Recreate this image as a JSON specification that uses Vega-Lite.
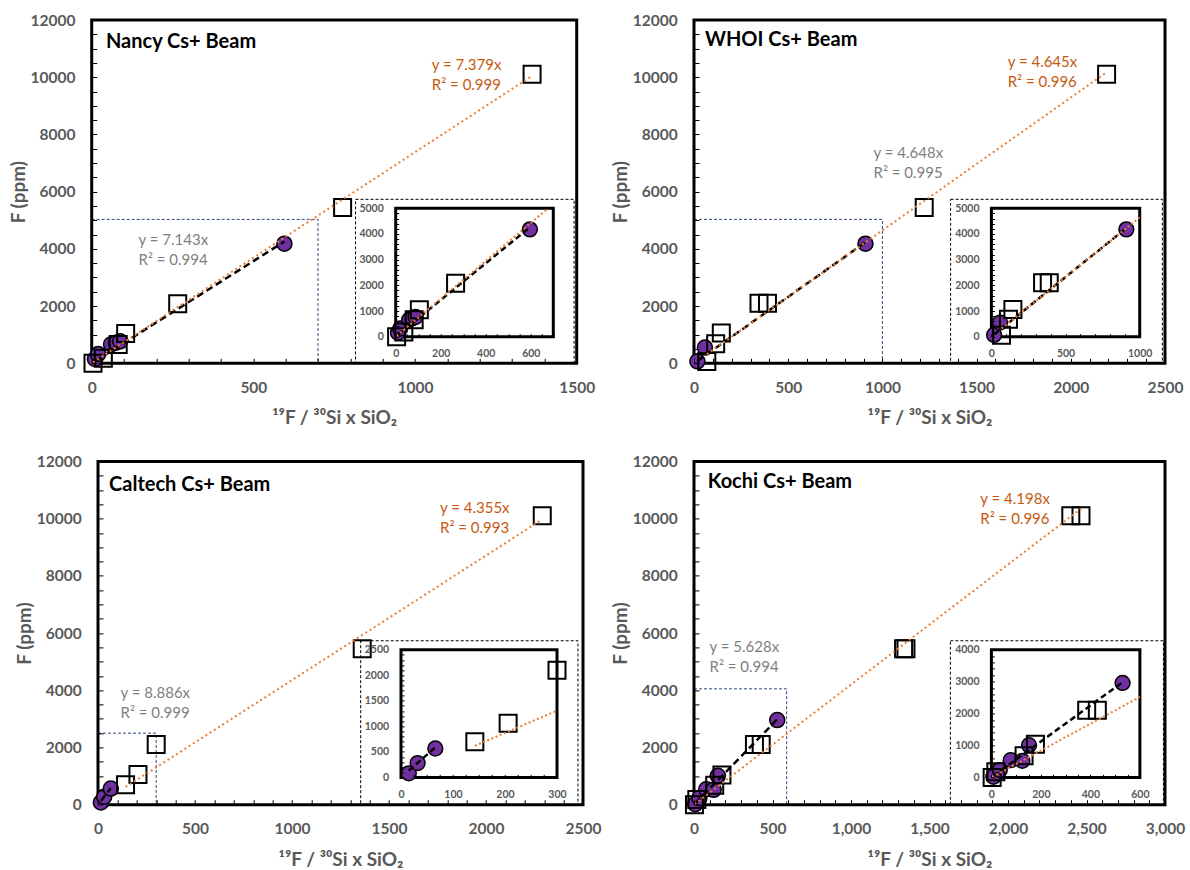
{
  "$schema": "https://vega.github.io/schema/vega-lite/v6.json",
  "autosize": "none",
  "padding": {"left": 91.7, "top": 20, "right": 1098.3, "bottom": 850},
  "background": "white",
  "config": {
    "view": {"stroke": null},
    "axis": {"domain": false, "grid": false, "labelColor": "#595959", "labelFont": "Lato", "labelFontWeight": "bold", "labelFlush": false, "labelOverlap": false, "labelBound": false, "tickColor": "black", "tickWidth": 1, "titleColor": "#595959", "titleFont": "Lato", "titleFontWeight": "bold", "zindex": 2}
  },
  "datasets": {
    "points": [
      {"panel": "Nancy", "type": "circle", "x": 10, "y": 150},
      {"panel": "Nancy", "type": "circle", "x": 20, "y": 320},
      {"panel": "Nancy", "type": "circle", "x": 60, "y": 660},
      {"panel": "Nancy", "type": "circle", "x": 75, "y": 720},
      {"panel": "Nancy", "type": "circle", "x": 88, "y": 770},
      {"panel": "Nancy", "type": "circle", "x": 596, "y": 4180},
      {"panel": "Nancy", "type": "square", "x": 4, "y": 0},
      {"panel": "Nancy", "type": "square", "x": 36, "y": 180},
      {"panel": "Nancy", "type": "square", "x": 82, "y": 660},
      {"panel": "Nancy", "type": "square", "x": 105, "y": 1045},
      {"panel": "Nancy", "type": "square", "x": 266, "y": 2080},
      {"panel": "Nancy", "type": "square", "x": 776, "y": 5450},
      {"panel": "Nancy", "type": "square", "x": 1362, "y": 10100},
      {"panel": "WHOI", "type": "circle", "x": 18, "y": 70},
      {"panel": "WHOI", "type": "circle", "x": 58, "y": 550},
      {"panel": "WHOI", "type": "circle", "x": 910, "y": 4180},
      {"panel": "WHOI", "type": "square", "x": 68, "y": 60},
      {"panel": "WHOI", "type": "square", "x": 115, "y": 680},
      {"panel": "WHOI", "type": "square", "x": 145, "y": 1060},
      {"panel": "WHOI", "type": "square", "x": 345, "y": 2100},
      {"panel": "WHOI", "type": "square", "x": 390, "y": 2100},
      {"panel": "WHOI", "type": "square", "x": 1222, "y": 5450},
      {"panel": "WHOI", "type": "square", "x": 2190, "y": 10100},
      {"panel": "Caltech", "type": "circle", "x": 15, "y": 80},
      {"panel": "Caltech", "type": "circle", "x": 32, "y": 280},
      {"panel": "Caltech", "type": "circle", "x": 66, "y": 565},
      {"panel": "Caltech", "type": "square", "x": 142, "y": 700},
      {"panel": "Caltech", "type": "square", "x": 206, "y": 1060},
      {"panel": "Caltech", "type": "square", "x": 300, "y": 2100},
      {"panel": "Caltech", "type": "square", "x": 1362, "y": 5450},
      {"panel": "Caltech", "type": "square", "x": 2290, "y": 10100},
      {"panel": "Kochi", "type": "circle", "x": 8, "y": 20},
      {"panel": "Kochi", "type": "circle", "x": 34, "y": 230},
      {"panel": "Kochi", "type": "circle", "x": 78, "y": 540},
      {"panel": "Kochi", "type": "circle", "x": 125, "y": 520},
      {"panel": "Kochi", "type": "circle", "x": 152, "y": 1010},
      {"panel": "Kochi", "type": "circle", "x": 530, "y": 2960},
      {"panel": "Kochi", "type": "square", "x": 3, "y": 0},
      {"panel": "Kochi", "type": "square", "x": 18, "y": 180},
      {"panel": "Kochi", "type": "square", "x": 132, "y": 680},
      {"panel": "Kochi", "type": "square", "x": 178, "y": 1040},
      {"panel": "Kochi", "type": "square", "x": 385, "y": 2100},
      {"panel": "Kochi", "type": "square", "x": 428, "y": 2100},
      {"panel": "Kochi", "type": "square", "x": 1335, "y": 5450},
      {"panel": "Kochi", "type": "square", "x": 1350, "y": 5450},
      {"panel": "Kochi", "type": "square", "x": 2400, "y": 10100},
      {"panel": "Kochi", "type": "square", "x": 2465, "y": 10100}
    ],
    "trend": [
      {"panel": "Nancy", "fit": "circle", "view": "both", "x": 10, "y": 71.43},
      {"panel": "Nancy", "fit": "circle", "view": "both", "x": 596, "y": 4257.2},
      {"panel": "Nancy", "fit": "all", "view": "main", "x": 4, "y": 29.52},
      {"panel": "Nancy", "fit": "all", "view": "main", "x": 1362, "y": 10050.2},
      {"panel": "Nancy", "fit": "all", "view": "inset", "x": 4, "y": 29.52},
      {"panel": "Nancy", "fit": "all", "view": "inset", "x": 677, "y": 4995.6},
      {"panel": "WHOI", "fit": "circle", "view": "both", "x": 18, "y": 83.66},
      {"panel": "WHOI", "fit": "circle", "view": "both", "x": 910, "y": 4229.7},
      {"panel": "WHOI", "fit": "all", "view": "main", "x": 68, "y": 315.9},
      {"panel": "WHOI", "fit": "all", "view": "main", "x": 2190, "y": 10172.6},
      {"panel": "WHOI", "fit": "all", "view": "inset", "x": 68, "y": 315.9},
      {"panel": "WHOI", "fit": "all", "view": "inset", "x": 1000, "y": 4645},
      {"panel": "Caltech", "fit": "circle", "view": "both", "x": 15, "y": 133.3},
      {"panel": "Caltech", "fit": "circle", "view": "both", "x": 66, "y": 586.5},
      {"panel": "Caltech", "fit": "all", "view": "main", "x": 142, "y": 618.4},
      {"panel": "Caltech", "fit": "all", "view": "main", "x": 2290, "y": 9973},
      {"panel": "Caltech", "fit": "all", "view": "inset", "x": 142, "y": 618.4},
      {"panel": "Caltech", "fit": "all", "view": "inset", "x": 300, "y": 1306.5},
      {"panel": "Kochi", "fit": "circle", "view": "both", "x": 8, "y": 45},
      {"panel": "Kochi", "fit": "circle", "view": "both", "x": 530, "y": 2982.8},
      {"panel": "Kochi", "fit": "all", "view": "main", "x": 3, "y": 12.6},
      {"panel": "Kochi", "fit": "all", "view": "main", "x": 2465, "y": 10348.1},
      {"panel": "Kochi", "fit": "all", "view": "inset", "x": 3, "y": 12.6},
      {"panel": "Kochi", "fit": "all", "view": "inset", "x": 600, "y": 2518.8}
    ]
  },
  "bounds": "flush",
  "columns": 2,
  "spacing": {"row": 97.4, "column": 110.3},
  "concat": [
    {
      "width": 485, "height": 343.3,
      "resolve": {"scale": {"x": "independent", "y": "independent"}},
      "layer": [
        {"data": {"values": [{}]},
         "mark": {"type": "rect", "filled": false, "stroke": "#2F4B7C", "strokeWidth": 1, "strokeDash": [3, 2]},
         "encoding": {"x": {"datum": 0, "type": "quantitative", "scale": {"domain": [0, 1500], "nice": false}, "axis": null}, "x2": {"datum": 700},
                      "y": {"datum": 0, "type": "quantitative", "scale": {"domain": [0, 12000], "nice": false}, "axis": null}, "y2": {"datum": 5030}}},
        {"data": {"values": [{}]},
         "mark": {"type": "rect", "fill": "white", "stroke": "black", "strokeWidth": 1, "strokeDash": [3, 2]},
         "encoding": {"x": {"datum": 816, "type": "quantitative", "scale": {"domain": [0, 1500], "nice": false}, "axis": null}, "x2": {"datum": 1492},
                      "y": {"datum": 0, "type": "quantitative", "scale": {"domain": [0, 12000], "nice": false}, "axis": null}, "y2": {"datum": 5732}}},
        {"data": {"values": [{}]},
         "mark": {"type": "rect", "filled": false, "stroke": "black", "strokeWidth": 3},
         "encoding": {"x": {"datum": 0, "type": "quantitative", "scale": {"domain": [0, 1500], "nice": false}, "axis": null}, "x2": {"datum": 1500},
                      "y": {"datum": 0, "type": "quantitative", "scale": {"domain": [0, 12000], "nice": false}, "axis": null}, "y2": {"datum": 12000}}},
        {"data": {"name": "points"}, "transform": [{"filter": "datum.panel === 'Nancy' && datum.type === 'circle'"}],
         "mark": {"type": "point", "shape": "circle", "filled": true, "fill": "#7030A0", "stroke": "black", "strokeWidth": 1.5, "size": 227, "opacity": 1},
         "encoding": {
           "x": {"field": "x", "type": "quantitative", "scale": {"domain": [0, 1500], "nice": false},
             "axis": {"title": "¹⁹F / ³⁰Si x SiO₂", "zindex": 2, "values": [0,100,200,300,400,500,600,700,800,900,1000,1100,1200,1300,1400,1500], "labelExpr": "datum.value % 500 === 0 ? datum.label : ''", "format": "d", "tickSize": -5, "labelFontSize": 15.5, "labelPadding": 22, "labelOverlap": false, "titleFontSize": 19, "titlePadding": 13}},
           "y": {"field": "y", "type": "quantitative", "scale": {"domain": [0, 12000], "nice": false},
             "axis": {"title": "F (ppm)", "zindex": 2, "values": [0,500,1000,1500,2000,2500,3000,3500,4000,4500,5000,5500,6000,6500,7000,7500,8000,8500,9000,9500,10000,10500,11000,11500,12000], "labelExpr": "datum.value % 2000 === 0 ? datum.label : ''", "format": "d", "tickSize": -5, "labelFontSize": 15.5, "labelPadding": 21.7, "labelOverlap": false, "titleFontSize": 19, "titlePadding": 2}}}},
        {"data": {"name": "points"}, "transform": [{"filter": "datum.panel === 'Nancy' && datum.type === 'square'"}],
         "mark": {"type": "point", "shape": "square", "filled": false, "stroke": "black", "strokeWidth": 2, "size": 289, "opacity": 1},
         "encoding": {"x": {"field": "x", "type": "quantitative", "scale": {"domain": [0, 1500], "nice": false}, "axis": null},
                      "y": {"field": "y", "type": "quantitative", "scale": {"domain": [0, 12000], "nice": false}, "axis": null}}},
        {"data": {"name": "trend"}, "transform": [{"filter": "datum.panel === 'Nancy' && datum.fit === 'circle'"}],
         "mark": {"type": "line", "color": "black", "strokeWidth": 2.5, "strokeDash": [7, 4]},
         "encoding": {"x": {"field": "x", "type": "quantitative", "scale": {"domain": [0, 1500], "nice": false}, "axis": null},
                      "y": {"field": "y", "type": "quantitative", "scale": {"domain": [0, 12000], "nice": false}, "axis": null}}},
        {"data": {"name": "trend"}, "transform": [{"filter": "datum.panel === 'Nancy' && datum.fit === 'all' && datum.view === 'main'"}],
         "mark": {"type": "line", "color": "#ED7D31", "strokeWidth": 2, "strokeDash": [2, 3]},
         "encoding": {"x": {"field": "x", "type": "quantitative", "scale": {"domain": [0, 1500], "nice": false}, "axis": null},
                      "y": {"field": "y", "type": "quantitative", "scale": {"domain": [0, 12000], "nice": false}, "axis": null}}},
        {"data": {"values": [{}]},
         "mark": {"type": "text", "text": "Nancy Cs+ Beam", "font": "Lato", "fontSize": 20, "fontWeight": "bold", "color": "black", "align": "left", "baseline": "middle"},
         "encoding": {"x": {"datum": 44, "type": "quantitative", "scale": {"domain": [0, 1500], "nice": false}, "axis": null},
                      "y": {"datum": 11241, "type": "quantitative", "scale": {"domain": [0, 12000], "nice": false}, "axis": null}}},
        {"data": {"values": [{}]},
         "mark": {"type": "text", "text": ["y = 7.379x", "R² = 0.999"], "font": "Lato", "fontSize": 15, "lineHeight": 20, "color": "#C65911", "align": "left", "baseline": "middle"},
         "encoding": {"x": {"datum": 1052, "type": "quantitative", "scale": {"domain": [0, 1500], "nice": false}, "axis": null},
                      "y": {"datum": 10426, "type": "quantitative", "scale": {"domain": [0, 12000], "nice": false}, "axis": null}}},
        {"data": {"values": [{}]},
         "mark": {"type": "text", "text": ["y = 7.143x", "R² = 0.994"], "font": "Lato", "fontSize": 15, "lineHeight": 20, "color": "#7F7F7F", "align": "left", "baseline": "middle"},
         "encoding": {"x": {"datum": 145, "type": "quantitative", "scale": {"domain": [0, 1500], "nice": false}, "axis": null},
                      "y": {"datum": 4310, "type": "quantitative", "scale": {"domain": [0, 12000], "nice": false}, "axis": null}}},
        {"data": {"values": [{}]},
         "mark": {"type": "rect", "fill": "white", "stroke": "black", "strokeWidth": 3},
         "encoding": {"x": {"datum": 0, "type": "quantitative", "scale": {"domain": [0, 700], "range": [304, 461.6], "nice": false}, "axis": null}, "x2": {"datum": 700},
                      "y": {"datum": 0, "type": "quantitative", "scale": {"domain": [0, 5000], "range": [316.7, 188.3], "nice": false}, "axis": null}, "y2": {"datum": 5000}}},
        {"data": {"name": "points"}, "transform": [{"filter": "datum.panel === 'Nancy' && datum.type === 'circle' && datum.x <= 700 && datum.y <= 5000"}],
         "mark": {"type": "point", "shape": "circle", "filled": true, "fill": "#7030A0", "stroke": "black", "strokeWidth": 1.5, "size": 220, "opacity": 1},
         "encoding": {
           "x": {"field": "x", "type": "quantitative", "scale": {"domain": [0, 700], "range": [304, 461.6], "nice": false},
             "axis": {"orient": "bottom", "offset": -26.6, "zindex": 2, "title": null, "values": [0,50,100,150,200,250,300,350,400,450,500,550,600,650,700], "labelExpr": "datum.value % 200 === 0 ? datum.label : ''", "format": "d", "tickSize": -3, "labelFontSize": 10.5, "labelPadding": 15, "labelOverlap": false}},
           "y": {"field": "y", "type": "quantitative", "scale": {"domain": [0, 5000], "range": [316.7, 188.3], "nice": false},
             "axis": {"orient": "left", "offset": -304, "zindex": 2, "title": null, "values": [0,200,400,600,800,1000,1200,1400,1600,1800,2000,2200,2400,2600,2800,3000,3200,3400,3600,3800,4000,4200,4400,4600,4800,5000], "labelExpr": "datum.value % 1000 === 0 ? datum.label : ''", "format": "d", "tickSize": -3, "labelFontSize": 10.5, "labelPadding": 15.4, "labelOverlap": false}}}},
        {"data": {"name": "points"}, "transform": [{"filter": "datum.panel === 'Nancy' && datum.type === 'square' && datum.x <= 700 && datum.y <= 5000"}],
         "mark": {"type": "point", "shape": "square", "filled": false, "stroke": "black", "strokeWidth": 2, "size": 289, "opacity": 1},
         "encoding": {"x": {"field": "x", "type": "quantitative", "scale": {"domain": [0, 700], "range": [304, 461.6], "nice": false}, "axis": null},
                      "y": {"field": "y", "type": "quantitative", "scale": {"domain": [0, 5000], "range": [316.7, 188.3], "nice": false}, "axis": null}}},
        {"data": {"name": "trend"}, "transform": [{"filter": "datum.panel === 'Nancy' && datum.fit === 'circle'"}],
         "mark": {"type": "line", "color": "black", "strokeWidth": 2.5, "strokeDash": [6, 3.5]},
         "encoding": {"x": {"field": "x", "type": "quantitative", "scale": {"domain": [0, 700], "range": [304, 461.6], "nice": false}, "axis": null},
                      "y": {"field": "y", "type": "quantitative", "scale": {"domain": [0, 5000], "range": [316.7, 188.3], "nice": false}, "axis": null}}},
        {"data": {"name": "trend"}, "transform": [{"filter": "datum.panel === 'Nancy' && datum.fit === 'all' && datum.view === 'inset'"}],
         "mark": {"type": "line", "color": "#ED7D31", "strokeWidth": 2, "strokeDash": [2, 2.5]},
         "encoding": {"x": {"field": "x", "type": "quantitative", "scale": {"domain": [0, 700], "range": [304, 461.6], "nice": false}, "axis": null},
                      "y": {"field": "y", "type": "quantitative", "scale": {"domain": [0, 5000], "range": [316.7, 188.3], "nice": false}, "axis": null}}}
      ]
    },
    {
      "width": 471, "height": 343.3,
      "resolve": {"scale": {"x": "independent", "y": "independent"}},
      "layer": [
        {"data": {"values": [{}]},
         "mark": {"type": "rect", "filled": false, "stroke": "#2F4B7C", "strokeWidth": 1, "strokeDash": [3, 2]},
         "encoding": {"x": {"datum": 0, "type": "quantitative", "scale": {"domain": [0, 2500], "nice": false}, "axis": null}, "x2": {"datum": 1000},
                      "y": {"datum": 0, "type": "quantitative", "scale": {"domain": [0, 12000], "nice": false}, "axis": null}, "y2": {"datum": 5030}}},
        {"data": {"values": [{}]},
         "mark": {"type": "rect", "fill": "white", "stroke": "black", "strokeWidth": 1, "strokeDash": [3, 2]},
         "encoding": {"x": {"datum": 1362, "type": "quantitative", "scale": {"domain": [0, 2500], "nice": false}, "axis": null}, "x2": {"datum": 2486},
                      "y": {"datum": 0, "type": "quantitative", "scale": {"domain": [0, 12000], "nice": false}, "axis": null}, "y2": {"datum": 5732}}},
        {"data": {"values": [{}]},
         "mark": {"type": "rect", "filled": false, "stroke": "black", "strokeWidth": 3},
         "encoding": {"x": {"datum": 0, "type": "quantitative", "scale": {"domain": [0, 2500], "nice": false}, "axis": null}, "x2": {"datum": 2500},
                      "y": {"datum": 0, "type": "quantitative", "scale": {"domain": [0, 12000], "nice": false}, "axis": null}, "y2": {"datum": 12000}}},
        {"data": {"name": "points"}, "transform": [{"filter": "datum.panel === 'WHOI' && datum.type === 'circle'"}],
         "mark": {"type": "point", "shape": "circle", "filled": true, "fill": "#7030A0", "stroke": "black", "strokeWidth": 1.5, "size": 227, "opacity": 1},
         "encoding": {
           "x": {"field": "x", "type": "quantitative", "scale": {"domain": [0, 2500], "nice": false},
             "axis": {"title": "¹⁹F / ³⁰Si x SiO₂", "zindex": 2, "values": [0,100,200,300,400,500,600,700,800,900,1000,1100,1200,1300,1400,1500,1600,1700,1800,1900,2000,2100,2200,2300,2400,2500], "labelExpr": "datum.value % 500 === 0 ? datum.label : ''", "format": "d", "tickSize": -5, "labelFontSize": 15.5, "labelPadding": 22, "labelOverlap": false, "titleFontSize": 19, "titlePadding": 13}},
           "y": {"field": "y", "type": "quantitative", "scale": {"domain": [0, 12000], "nice": false},
             "axis": {"title": "F (ppm)", "zindex": 2, "values": [0,500,1000,1500,2000,2500,3000,3500,4000,4500,5000,5500,6000,6500,7000,7500,8000,8500,9000,9500,10000,10500,11000,11500,12000], "labelExpr": "datum.value % 2000 === 0 ? datum.label : ''", "format": "d", "tickSize": -5, "labelFontSize": 15.5, "labelPadding": 21.7, "labelOverlap": false, "titleFontSize": 19, "titlePadding": 2}}}},
        {"data": {"name": "points"}, "transform": [{"filter": "datum.panel === 'WHOI' && datum.type === 'square'"}],
         "mark": {"type": "point", "shape": "square", "filled": false, "stroke": "black", "strokeWidth": 2, "size": 289, "opacity": 1},
         "encoding": {"x": {"field": "x", "type": "quantitative", "scale": {"domain": [0, 2500], "nice": false}, "axis": null},
                      "y": {"field": "y", "type": "quantitative", "scale": {"domain": [0, 12000], "nice": false}, "axis": null}}},
        {"data": {"name": "trend"}, "transform": [{"filter": "datum.panel === 'WHOI' && datum.fit === 'circle'"}],
         "mark": {"type": "line", "color": "black", "strokeWidth": 2.5, "strokeDash": [7, 4]},
         "encoding": {"x": {"field": "x", "type": "quantitative", "scale": {"domain": [0, 2500], "nice": false}, "axis": null},
                      "y": {"field": "y", "type": "quantitative", "scale": {"domain": [0, 12000], "nice": false}, "axis": null}}},
        {"data": {"name": "trend"}, "transform": [{"filter": "datum.panel === 'WHOI' && datum.fit === 'all' && datum.view === 'main'"}],
         "mark": {"type": "line", "color": "#ED7D31", "strokeWidth": 2, "strokeDash": [2, 3]},
         "encoding": {"x": {"field": "x", "type": "quantitative", "scale": {"domain": [0, 2500], "nice": false}, "axis": null},
                      "y": {"field": "y", "type": "quantitative", "scale": {"domain": [0, 12000], "nice": false}, "axis": null}}},
        {"data": {"values": [{}]},
         "mark": {"type": "text", "text": "WHOI Cs+ Beam", "font": "Lato", "fontSize": 20, "fontWeight": "bold", "color": "black", "align": "left", "baseline": "middle"},
         "encoding": {"x": {"datum": 58, "type": "quantitative", "scale": {"domain": [0, 2500], "nice": false}, "axis": null},
                      "y": {"datum": 11300, "type": "quantitative", "scale": {"domain": [0, 12000], "nice": false}, "axis": null}}},
        {"data": {"values": [{}]},
         "mark": {"type": "text", "text": ["y = 4.645x", "R² = 0.996"], "font": "Lato", "fontSize": 15, "lineHeight": 20, "color": "#C65911", "align": "left", "baseline": "middle"},
         "encoding": {"x": {"datum": 1665, "type": "quantitative", "scale": {"domain": [0, 2500], "nice": false}, "axis": null},
                      "y": {"datum": 10542, "type": "quantitative", "scale": {"domain": [0, 12000], "nice": false}, "axis": null}}},
        {"data": {"values": [{}]},
         "mark": {"type": "text", "text": ["y = 4.648x", "R² = 0.995"], "font": "Lato", "fontSize": 15, "lineHeight": 20, "color": "#7F7F7F", "align": "left", "baseline": "middle"},
         "encoding": {"x": {"datum": 953, "type": "quantitative", "scale": {"domain": [0, 2500], "nice": false}, "axis": null},
                      "y": {"datum": 7340, "type": "quantitative", "scale": {"domain": [0, 12000], "nice": false}, "axis": null}}},
        {"data": {"values": [{}]},
         "mark": {"type": "rect", "fill": "white", "stroke": "black", "strokeWidth": 3},
         "encoding": {"x": {"datum": 0, "type": "quantitative", "scale": {"domain": [0, 1000], "range": [297.4, 445.7], "nice": false}, "axis": null}, "x2": {"datum": 1000},
                      "y": {"datum": 0, "type": "quantitative", "scale": {"domain": [0, 5000], "range": [316.7, 188.3], "nice": false}, "axis": null}, "y2": {"datum": 5000}}},
        {"data": {"name": "points"}, "transform": [{"filter": "datum.panel === 'WHOI' && datum.type === 'circle' && datum.x <= 1000 && datum.y <= 5000"}],
         "mark": {"type": "point", "shape": "circle", "filled": true, "fill": "#7030A0", "stroke": "black", "strokeWidth": 1.5, "size": 220, "opacity": 1},
         "encoding": {
           "x": {"field": "x", "type": "quantitative", "scale": {"domain": [0, 1000], "range": [297.4, 445.7], "nice": false},
             "axis": {"orient": "bottom", "offset": -26.6, "zindex": 2, "title": null, "values": [0,100,200,300,400,500,600,700,800,900,1000], "labelExpr": "datum.value % 500 === 0 ? datum.label : ''", "format": "d", "tickSize": -3, "labelFontSize": 10.5, "labelPadding": 15, "labelOverlap": false}},
           "y": {"field": "y", "type": "quantitative", "scale": {"domain": [0, 5000], "range": [316.7, 188.3], "nice": false},
             "axis": {"orient": "left", "offset": -297.4, "zindex": 2, "title": null, "values": [0,200,400,600,800,1000,1200,1400,1600,1800,2000,2200,2400,2600,2800,3000,3200,3400,3600,3800,4000,4200,4400,4600,4800,5000], "labelExpr": "datum.value % 1000 === 0 ? datum.label : ''", "format": "d", "tickSize": -3, "labelFontSize": 10.5, "labelPadding": 15.4, "labelOverlap": false}}}},
        {"data": {"name": "points"}, "transform": [{"filter": "datum.panel === 'WHOI' && datum.type === 'square' && datum.x <= 1000 && datum.y <= 5000"}],
         "mark": {"type": "point", "shape": "square", "filled": false, "stroke": "black", "strokeWidth": 2, "size": 289, "opacity": 1},
         "encoding": {"x": {"field": "x", "type": "quantitative", "scale": {"domain": [0, 1000], "range": [297.4, 445.7], "nice": false}, "axis": null},
                      "y": {"field": "y", "type": "quantitative", "scale": {"domain": [0, 5000], "range": [316.7, 188.3], "nice": false}, "axis": null}}},
        {"data": {"name": "trend"}, "transform": [{"filter": "datum.panel === 'WHOI' && datum.fit === 'circle'"}],
         "mark": {"type": "line", "color": "black", "strokeWidth": 2.5, "strokeDash": [6, 3.5]},
         "encoding": {"x": {"field": "x", "type": "quantitative", "scale": {"domain": [0, 1000], "range": [297.4, 445.7], "nice": false}, "axis": null},
                      "y": {"field": "y", "type": "quantitative", "scale": {"domain": [0, 5000], "range": [316.7, 188.3], "nice": false}, "axis": null}}},
        {"data": {"name": "trend"}, "transform": [{"filter": "datum.panel === 'WHOI' && datum.fit === 'all' && datum.view === 'inset'"}],
         "mark": {"type": "line", "color": "#ED7D31", "strokeWidth": 2, "strokeDash": [2, 2.5]},
         "encoding": {"x": {"field": "x", "type": "quantitative", "scale": {"domain": [0, 1000], "range": [297.4, 445.7], "nice": false}, "axis": null},
                      "y": {"field": "y", "type": "quantitative", "scale": {"domain": [0, 5000], "range": [316.7, 188.3], "nice": false}, "axis": null}}}
      ]
    },
    {
      "width": 491.3, "height": 343.3,
      "resolve": {"scale": {"x": "independent", "y": "independent"}},
      "layer": [
        {"data": {"values": [{}]},
         "mark": {"type": "rect", "filled": false, "stroke": "#2F4B7C", "strokeWidth": 1, "strokeDash": [3, 2]},
         "encoding": {"x": {"datum": 0, "type": "quantitative", "scale": {"domain": [0, 2500], "range": [6.3, 491.3], "nice": false}, "axis": null}, "x2": {"datum": 300},
                      "y": {"datum": 0, "type": "quantitative", "scale": {"domain": [0, 12000], "nice": false}, "axis": null}, "y2": {"datum": 2500}}},
        {"data": {"values": [{}]},
         "mark": {"type": "rect", "fill": "white", "stroke": "black", "strokeWidth": 1, "strokeDash": [3, 2]},
         "encoding": {"x": {"datum": 1354, "type": "quantitative", "scale": {"domain": [0, 2500], "range": [6.3, 491.3], "nice": false}, "axis": null}, "x2": {"datum": 2474},
                      "y": {"datum": 0, "type": "quantitative", "scale": {"domain": [0, 12000], "nice": false}, "axis": null}, "y2": {"datum": 5730}}},
        {"data": {"values": [{}]},
         "mark": {"type": "rect", "filled": false, "stroke": "black", "strokeWidth": 3},
         "encoding": {"x": {"datum": 0, "type": "quantitative", "scale": {"domain": [0, 2500], "range": [6.3, 491.3], "nice": false}, "axis": null}, "x2": {"datum": 2500},
                      "y": {"datum": 0, "type": "quantitative", "scale": {"domain": [0, 12000], "nice": false}, "axis": null}, "y2": {"datum": 12000}}},
        {"data": {"name": "points"}, "transform": [{"filter": "datum.panel === 'Caltech' && datum.type === 'circle'"}],
         "mark": {"type": "point", "shape": "circle", "filled": true, "fill": "#7030A0", "stroke": "black", "strokeWidth": 1.5, "size": 227, "opacity": 1},
         "encoding": {
           "x": {"field": "x", "type": "quantitative", "scale": {"domain": [0, 2500], "range": [6.3, 491.3], "nice": false},
             "axis": {"title": "¹⁹F / ³⁰Si x SiO₂", "zindex": 2, "values": [0,100,200,300,400,500,600,700,800,900,1000,1100,1200,1300,1400,1500,1600,1700,1800,1900,2000,2100,2200,2300,2400,2500], "labelExpr": "datum.value % 500 === 0 ? datum.label : ''", "format": "d", "tickSize": -5, "labelFontSize": 15.5, "labelPadding": 22, "labelOverlap": false, "titleFontSize": 19, "titlePadding": 13}},
           "y": {"field": "y", "type": "quantitative", "scale": {"domain": [0, 12000], "nice": false},
             "axis": {"title": "F (ppm)", "zindex": 2, "offset": -6.3, "values": [0,500,1000,1500,2000,2500,3000,3500,4000,4500,5000,5500,6000,6500,7000,7500,8000,8500,9000,9500,10000,10500,11000,11500,12000], "labelExpr": "datum.value % 2000 === 0 ? datum.label : ''", "format": "d", "tickSize": -5, "labelFontSize": 15.5, "labelPadding": 21.7, "labelOverlap": false, "titleFontSize": 19, "titlePadding": 2}}}},
        {"data": {"name": "points"}, "transform": [{"filter": "datum.panel === 'Caltech' && datum.type === 'square'"}],
         "mark": {"type": "point", "shape": "square", "filled": false, "stroke": "black", "strokeWidth": 2, "size": 289, "opacity": 1},
         "encoding": {"x": {"field": "x", "type": "quantitative", "scale": {"domain": [0, 2500], "range": [6.3, 491.3], "nice": false}, "axis": null},
                      "y": {"field": "y", "type": "quantitative", "scale": {"domain": [0, 12000], "nice": false}, "axis": null}}},
        {"data": {"name": "trend"}, "transform": [{"filter": "datum.panel === 'Caltech' && datum.fit === 'circle'"}],
         "mark": {"type": "line", "color": "black", "strokeWidth": 2.5, "strokeDash": [7, 4]},
         "encoding": {"x": {"field": "x", "type": "quantitative", "scale": {"domain": [0, 2500], "range": [6.3, 491.3], "nice": false}, "axis": null},
                      "y": {"field": "y", "type": "quantitative", "scale": {"domain": [0, 12000], "nice": false}, "axis": null}}},
        {"data": {"name": "trend"}, "transform": [{"filter": "datum.panel === 'Caltech' && datum.fit === 'all' && datum.view === 'main'"}],
         "mark": {"type": "line", "color": "#ED7D31", "strokeWidth": 2, "strokeDash": [2, 3]},
         "encoding": {"x": {"field": "x", "type": "quantitative", "scale": {"domain": [0, 2500], "range": [6.3, 491.3], "nice": false}, "axis": null},
                      "y": {"field": "y", "type": "quantitative", "scale": {"domain": [0, 12000], "nice": false}, "axis": null}}},
        {"data": {"values": [{}]},
         "mark": {"type": "text", "text": "Caltech Cs+ Beam", "font": "Lato", "fontSize": 20, "fontWeight": "bold", "color": "black", "align": "left", "baseline": "middle"},
         "encoding": {"x": {"datum": 57, "type": "quantitative", "scale": {"domain": [0, 2500], "range": [6.3, 491.3], "nice": false}, "axis": null},
                      "y": {"datum": 11174, "type": "quantitative", "scale": {"domain": [0, 12000], "nice": false}, "axis": null}}},
        {"data": {"values": [{}]},
         "mark": {"type": "text", "text": ["y = 4.355x", "R² = 0.993"], "font": "Lato", "fontSize": 15, "lineHeight": 20, "color": "#C65911", "align": "left", "baseline": "middle"},
         "encoding": {"x": {"datum": 1763, "type": "quantitative", "scale": {"domain": [0, 2500], "range": [6.3, 491.3], "nice": false}, "axis": null},
                      "y": {"datum": 10356, "type": "quantitative", "scale": {"domain": [0, 12000], "nice": false}, "axis": null}}},
        {"data": {"values": [{}]},
         "mark": {"type": "text", "text": ["y = 8.886x", "R² = 0.999"], "font": "Lato", "fontSize": 15, "lineHeight": 20, "color": "#7F7F7F", "align": "left", "baseline": "middle"},
         "encoding": {"x": {"datum": 116, "type": "quantitative", "scale": {"domain": [0, 2500], "range": [6.3, 491.3], "nice": false}, "axis": null},
                      "y": {"datum": 3904, "type": "quantitative", "scale": {"domain": [0, 12000], "nice": false}, "axis": null}}},
        {"data": {"values": [{}]},
         "mark": {"type": "rect", "fill": "white", "stroke": "black", "strokeWidth": 3},
         "encoding": {"x": {"datum": 0, "type": "quantitative", "scale": {"domain": [0, 300], "range": [309.3, 465.3], "nice": false}, "axis": null}, "x2": {"datum": 300},
                      "y": {"datum": 0, "type": "quantitative", "scale": {"domain": [0, 2500], "range": [316, 188.3], "nice": false}, "axis": null}, "y2": {"datum": 2500}}},
        {"data": {"name": "points"}, "transform": [{"filter": "datum.panel === 'Caltech' && datum.type === 'circle' && datum.x <= 300 && datum.y <= 2500"}],
         "mark": {"type": "point", "shape": "circle", "filled": true, "fill": "#7030A0", "stroke": "black", "strokeWidth": 1.5, "size": 220, "opacity": 1},
         "encoding": {
           "x": {"field": "x", "type": "quantitative", "scale": {"domain": [0, 300], "range": [309.3, 465.3], "nice": false},
             "axis": {"orient": "bottom", "offset": -27.3, "zindex": 2, "title": null, "values": [0,25,50,75,100,125,150,175,200,225,250,275,300], "labelExpr": "datum.value % 100 === 0 ? datum.label : ''", "format": "d", "tickSize": -3, "labelFontSize": 10.5, "labelPadding": 15, "labelOverlap": false}},
           "y": {"field": "y", "type": "quantitative", "scale": {"domain": [0, 2500], "range": [316, 188.3], "nice": false},
             "axis": {"orient": "left", "offset": -309.3, "zindex": 2, "title": null, "values": [0,100,200,300,400,500,600,700,800,900,1000,1100,1200,1300,1400,1500,1600,1700,1800,1900,2000,2100,2200,2300,2400,2500], "labelExpr": "datum.value % 500 === 0 ? datum.label : ''", "format": "d", "tickSize": -3, "labelFontSize": 10.5, "labelPadding": 15.4, "labelOverlap": false}}}},
        {"data": {"name": "points"}, "transform": [{"filter": "datum.panel === 'Caltech' && datum.type === 'square' && datum.x <= 300 && datum.y <= 2500"}],
         "mark": {"type": "point", "shape": "square", "filled": false, "stroke": "black", "strokeWidth": 2, "size": 289, "opacity": 1},
         "encoding": {"x": {"field": "x", "type": "quantitative", "scale": {"domain": [0, 300], "range": [309.3, 465.3], "nice": false}, "axis": null},
                      "y": {"field": "y", "type": "quantitative", "scale": {"domain": [0, 2500], "range": [316, 188.3], "nice": false}, "axis": null}}},
        {"data": {"name": "trend"}, "transform": [{"filter": "datum.panel === 'Caltech' && datum.fit === 'circle'"}],
         "mark": {"type": "line", "color": "black", "strokeWidth": 2.5, "strokeDash": [6, 3.5]},
         "encoding": {"x": {"field": "x", "type": "quantitative", "scale": {"domain": [0, 300], "range": [309.3, 465.3], "nice": false}, "axis": null},
                      "y": {"field": "y", "type": "quantitative", "scale": {"domain": [0, 2500], "range": [316, 188.3], "nice": false}, "axis": null}}},
        {"data": {"name": "trend"}, "transform": [{"filter": "datum.panel === 'Caltech' && datum.fit === 'all' && datum.view === 'inset'"}],
         "mark": {"type": "line", "color": "#ED7D31", "strokeWidth": 2, "strokeDash": [2, 2.5]},
         "encoding": {"x": {"field": "x", "type": "quantitative", "scale": {"domain": [0, 300], "range": [309.3, 465.3], "nice": false}, "axis": null},
                      "y": {"field": "y", "type": "quantitative", "scale": {"domain": [0, 2500], "range": [316, 188.3], "nice": false}, "axis": null}}}
      ]
    },
    {
      "width": 471, "height": 343.3,
      "resolve": {"scale": {"x": "independent", "y": "independent"}},
      "layer": [
        {"data": {"values": [{}]},
         "mark": {"type": "rect", "filled": false, "stroke": "#2F4B7C", "strokeWidth": 1, "strokeDash": [3, 2]},
         "encoding": {"x": {"datum": 0, "type": "quantitative", "scale": {"domain": [0, 3000], "nice": false}, "axis": null}, "x2": {"datum": 590},
                      "y": {"datum": 0, "type": "quantitative", "scale": {"domain": [0, 12000], "nice": false}, "axis": null}, "y2": {"datum": 4050}}},
        {"data": {"values": [{}]},
         "mark": {"type": "rect", "fill": "white", "stroke": "black", "strokeWidth": 1, "strokeDash": [3, 2]},
         "encoding": {"x": {"datum": 1633, "type": "quantitative", "scale": {"domain": [0, 3000], "nice": false}, "axis": null}, "x2": {"datum": 2990},
                      "y": {"datum": 0, "type": "quantitative", "scale": {"domain": [0, 12000], "nice": false}, "axis": null}, "y2": {"datum": 5730}}},
        {"data": {"values": [{}]},
         "mark": {"type": "rect", "filled": false, "stroke": "black", "strokeWidth": 3},
         "encoding": {"x": {"datum": 0, "type": "quantitative", "scale": {"domain": [0, 3000], "nice": false}, "axis": null}, "x2": {"datum": 3000},
                      "y": {"datum": 0, "type": "quantitative", "scale": {"domain": [0, 12000], "nice": false}, "axis": null}, "y2": {"datum": 12000}}},
        {"data": {"name": "points"}, "transform": [{"filter": "datum.panel === 'Kochi' && datum.type === 'circle'"}],
         "mark": {"type": "point", "shape": "circle", "filled": true, "fill": "#7030A0", "stroke": "black", "strokeWidth": 1.5, "size": 227, "opacity": 1},
         "encoding": {
           "x": {"field": "x", "type": "quantitative", "scale": {"domain": [0, 3000], "nice": false},
             "axis": {"title": "¹⁹F / ³⁰Si x SiO₂", "zindex": 2, "values": [0,100,200,300,400,500,600,700,800,900,1000,1100,1200,1300,1400,1500,1600,1700,1800,1900,2000,2100,2200,2300,2400,2500,2600,2700,2800,2900,3000], "labelExpr": "datum.value % 500 === 0 ? datum.label : ''", "format": ",d", "tickSize": -5, "labelFontSize": 15.5, "labelPadding": 22, "labelOverlap": false, "titleFontSize": 19, "titlePadding": 13}},
           "y": {"field": "y", "type": "quantitative", "scale": {"domain": [0, 12000], "nice": false},
             "axis": {"title": "F (ppm)", "zindex": 2, "values": [0,500,1000,1500,2000,2500,3000,3500,4000,4500,5000,5500,6000,6500,7000,7500,8000,8500,9000,9500,10000,10500,11000,11500,12000], "labelExpr": "datum.value % 2000 === 0 ? datum.label : ''", "format": "d", "tickSize": -5, "labelFontSize": 15.5, "labelPadding": 21.7, "labelOverlap": false, "titleFontSize": 19, "titlePadding": 2}}}},
        {"data": {"name": "points"}, "transform": [{"filter": "datum.panel === 'Kochi' && datum.type === 'square'"}],
         "mark": {"type": "point", "shape": "square", "filled": false, "stroke": "black", "strokeWidth": 2, "size": 289, "opacity": 1},
         "encoding": {"x": {"field": "x", "type": "quantitative", "scale": {"domain": [0, 3000], "nice": false}, "axis": null},
                      "y": {"field": "y", "type": "quantitative", "scale": {"domain": [0, 12000], "nice": false}, "axis": null}}},
        {"data": {"name": "trend"}, "transform": [{"filter": "datum.panel === 'Kochi' && datum.fit === 'circle'"}],
         "mark": {"type": "line", "color": "black", "strokeWidth": 2.5, "strokeDash": [7, 4]},
         "encoding": {"x": {"field": "x", "type": "quantitative", "scale": {"domain": [0, 3000], "nice": false}, "axis": null},
                      "y": {"field": "y", "type": "quantitative", "scale": {"domain": [0, 12000], "nice": false}, "axis": null}}},
        {"data": {"name": "trend"}, "transform": [{"filter": "datum.panel === 'Kochi' && datum.fit === 'all' && datum.view === 'main'"}],
         "mark": {"type": "line", "color": "#ED7D31", "strokeWidth": 2, "strokeDash": [2, 3]},
         "encoding": {"x": {"field": "x", "type": "quantitative", "scale": {"domain": [0, 3000], "nice": false}, "axis": null},
                      "y": {"field": "y", "type": "quantitative", "scale": {"domain": [0, 12000], "nice": false}, "axis": null}}},
        {"data": {"values": [{}]},
         "mark": {"type": "text", "text": "Kochi Cs+ Beam", "font": "Lato", "fontSize": 20, "fontWeight": "bold", "color": "black", "align": "left", "baseline": "middle"},
         "encoding": {"x": {"datum": 87, "type": "quantitative", "scale": {"domain": [0, 3000], "nice": false}, "axis": null},
                      "y": {"datum": 11265, "type": "quantitative", "scale": {"domain": [0, 12000], "nice": false}, "axis": null}}},
        {"data": {"values": [{}]},
         "mark": {"type": "text", "text": ["y = 4.198x", "R² = 0.996"], "font": "Lato", "fontSize": 15, "lineHeight": 20, "color": "#C65911", "align": "left", "baseline": "middle"},
         "encoding": {"x": {"datum": 1824, "type": "quantitative", "scale": {"domain": [0, 3000], "nice": false}, "axis": null},
                      "y": {"datum": 10685, "type": "quantitative", "scale": {"domain": [0, 12000], "nice": false}, "axis": null}}},
        {"data": {"values": [{}]},
         "mark": {"type": "text", "text": ["y = 5.628x", "R² = 0.994"], "font": "Lato", "fontSize": 15, "lineHeight": 20, "color": "#7F7F7F", "align": "left", "baseline": "middle"},
         "encoding": {"x": {"datum": 99, "type": "quantitative", "scale": {"domain": [0, 3000], "nice": false}, "axis": null},
                      "y": {"datum": 5498, "type": "quantitative", "scale": {"domain": [0, 12000], "nice": false}, "axis": null}}},
        {"data": {"values": [{}]},
         "mark": {"type": "rect", "fill": "white", "stroke": "black", "strokeWidth": 3},
         "encoding": {"x": {"datum": 0, "type": "quantitative", "scale": {"domain": [0, 600], "range": [297.4, 445.9], "nice": false}, "axis": null}, "x2": {"datum": 600},
                      "y": {"datum": 0, "type": "quantitative", "scale": {"domain": [0, 4000], "range": [316, 188.3], "nice": false}, "axis": null}, "y2": {"datum": 4000}}},
        {"data": {"name": "points"}, "transform": [{"filter": "datum.panel === 'Kochi' && datum.type === 'circle' && datum.x <= 600 && datum.y <= 4000"}],
         "mark": {"type": "point", "shape": "circle", "filled": true, "fill": "#7030A0", "stroke": "black", "strokeWidth": 1.5, "size": 220, "opacity": 1},
         "encoding": {
           "x": {"field": "x", "type": "quantitative", "scale": {"domain": [0, 600], "range": [297.4, 445.9], "nice": false},
             "axis": {"orient": "bottom", "offset": -27.3, "zindex": 2, "title": null, "values": [0,50,100,150,200,250,300,350,400,450,500,550,600], "labelExpr": "datum.value % 200 === 0 ? datum.label : ''", "format": "d", "tickSize": -3, "labelFontSize": 10.5, "labelPadding": 15, "labelOverlap": false}},
           "y": {"field": "y", "type": "quantitative", "scale": {"domain": [0, 4000], "range": [316, 188.3], "nice": false},
             "axis": {"orient": "left", "offset": -297.4, "zindex": 2, "title": null, "values": [0,200,400,600,800,1000,1200,1400,1600,1800,2000,2200,2400,2600,2800,3000,3200,3400,3600,3800,4000], "labelExpr": "datum.value % 1000 === 0 ? datum.label : ''", "format": "d", "tickSize": -3, "labelFontSize": 10.5, "labelPadding": 15.4, "labelOverlap": false}}}},
        {"data": {"name": "points"}, "transform": [{"filter": "datum.panel === 'Kochi' && datum.type === 'square' && datum.x <= 600 && datum.y <= 4000"}],
         "mark": {"type": "point", "shape": "square", "filled": false, "stroke": "black", "strokeWidth": 2, "size": 289, "opacity": 1},
         "encoding": {"x": {"field": "x", "type": "quantitative", "scale": {"domain": [0, 600], "range": [297.4, 445.9], "nice": false}, "axis": null},
                      "y": {"field": "y", "type": "quantitative", "scale": {"domain": [0, 4000], "range": [316, 188.3], "nice": false}, "axis": null}}},
        {"data": {"name": "trend"}, "transform": [{"filter": "datum.panel === 'Kochi' && datum.fit === 'circle'"}],
         "mark": {"type": "line", "color": "black", "strokeWidth": 2.5, "strokeDash": [6, 3.5]},
         "encoding": {"x": {"field": "x", "type": "quantitative", "scale": {"domain": [0, 600], "range": [297.4, 445.9], "nice": false}, "axis": null},
                      "y": {"field": "y", "type": "quantitative", "scale": {"domain": [0, 4000], "range": [316, 188.3], "nice": false}, "axis": null}}},
        {"data": {"name": "trend"}, "transform": [{"filter": "datum.panel === 'Kochi' && datum.fit === 'all' && datum.view === 'inset'"}],
         "mark": {"type": "line", "color": "#ED7D31", "strokeWidth": 2, "strokeDash": [2, 2.5]},
         "encoding": {"x": {"field": "x", "type": "quantitative", "scale": {"domain": [0, 600], "range": [297.4, 445.9], "nice": false}, "axis": null},
                      "y": {"field": "y", "type": "quantitative", "scale": {"domain": [0, 4000], "range": [316, 188.3], "nice": false}, "axis": null}}}
      ]
    }
  ]
}
